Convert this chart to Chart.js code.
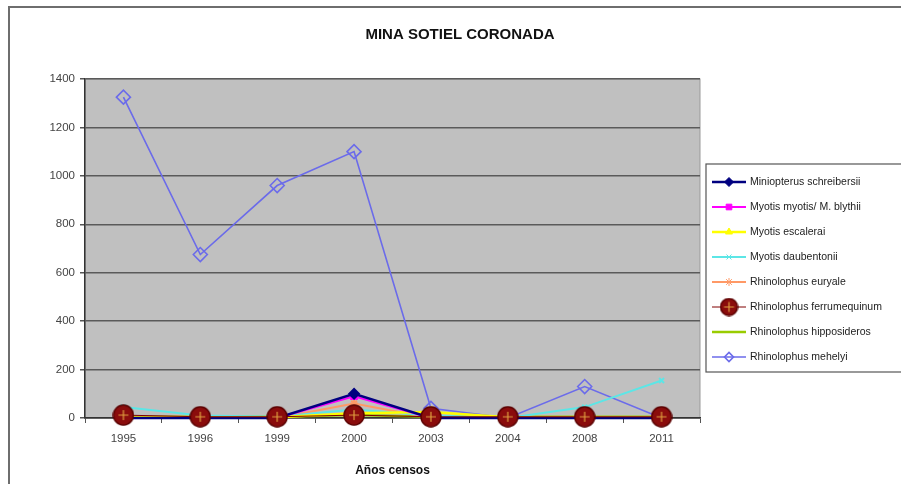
<!DOCTYPE html>
<html>
<head>
<meta charset="utf-8">
<title>MINA SOTIEL CORONADA</title>
<script src="https://cdn.jsdelivr.net/npm/chart.js@4.4.1/dist/chart.umd.min.js"></script>
<style>
  html, body { margin: 0; padding: 0; background: #fff; }
  #wrap { width: 901px; height: 484px; position: relative; }
</style>
</head>
<body>
<div id="wrap"><canvas id="chart"></canvas></div>
<script>
// categories (census years)
const years = ["1995", "1996", "1999", "2000", "2003", "2004", "2008", "2011"];
const yTicks = [0, 200, 400, 600, 800, 1000, 1200, 1400];

// series values
const miniopterus    = [0, 0, 0, 100, 0, 0, 0, 0];
const myotisMyotis   = [0, 0, 0, 90, 0, 0, 0, 0];
const myotisEscalera = [3, 3, 3, 20, 25, 3, 3, 3];
const myotisDaub     = [45, 10, 5, 35, 10, 0, 45, 155];
const rhEuryale      = [0, 0, 0, 60, 0, 0, 0, 0];
const rhFerrum       = [12, 5, 5, 12, 5, 5, 5, 5];
const rhHipposideros = [5, 5, 5, 12, 5, 5, 5, 5];
const rhMehelyi      = [1325, 675, 960, 1100, 40, 0, 130, 0];

const seriesNames = [
  "Miniopterus schreibersii",
  "Myotis myotis/ M. blythii",
  "Myotis escalerai",
  "Myotis daubentonii",
  "Rhinolophus euryale",
  "Rhinolophus ferrumequinum",
  "Rhinolophus hipposideros",
  "Rhinolophus mehelyi"
];
const chartTitle = "MINA SOTIEL CORONADA";

// big dark-red circle with a plus inside (ferrumequinum marker)
function circlePlus(size) {
  const c = document.createElement("canvas");
  c.width = size; c.height = size;
  const g = c.getContext("2d");
  const r = size / 2;
  g.beginPath();
  g.arc(r, r, r - 1, 0, Math.PI * 2);
  g.fillStyle = "#8a0c0c";
  g.fill();
  g.lineWidth = 1.5;
  g.strokeStyle = "#5a0000";
  g.stroke();
  g.strokeStyle = "#e0a040";
  g.lineWidth = 1.2;
  g.beginPath();
  g.moveTo(r - 5, r); g.lineTo(r + 5, r);
  g.moveTo(r, r - 5); g.lineTo(r, r + 5);
  g.stroke();
  return c;
}
const ferrumMarker = circlePlus(22);
const ferrumLegend = circlePlus(19);

function ds(label, data, color, style, radius, extra) {
  return Object.assign({
    label, data,
    borderColor: color,
    backgroundColor: color,
    pointBackgroundColor: color,
    pointBorderColor: color,
    pointStyle: style,
    pointRadius: radius,
    pointHoverRadius: radius,
    borderWidth: 2,
    tension: 0,
    clip: false
  }, extra || {});
}

const datasets = [
  ds(seriesNames[0], miniopterus, "#000080", "rectRot", 4.5, { borderWidth: 2.5 }),
  ds(seriesNames[1], myotisMyotis, "#ff00ff", "rect", 4),
  ds(seriesNames[2], myotisEscalera, "#ffff00", "triangle", 4, { borderWidth: 2.5 }),
  ds(seriesNames[3], myotisDaub, "#5ce6e6", "crossRot", 3.5, { borderWidth: 2 }),
  ds(seriesNames[4], rhEuryale, "#ff9966", "star", 4),
  ds(seriesNames[5], rhFerrum, "#800000", ferrumMarker, 11, { order: -1, borderWidth: 1 }),
  ds(seriesNames[6], rhHipposideros, "#99cc00", "line", 4, { borderWidth: 2.5 }),
  ds(seriesNames[7], rhMehelyi, "#6b6bea", "rectRot", 7, { pointBackgroundColor: "rgba(0,0,0,0)", borderWidth: 1.6, pointBorderWidth: 1.6 })
];

const framePlugin = {
  id: "frame",
  beforeDraw(chart) {
    const ctx = chart.ctx;
    const a = chart.chartArea;
    ctx.save();
    ctx.fillStyle = "#ffffff";
    ctx.fillRect(0, 0, chart.width, chart.height);
    ctx.strokeStyle = "#6e6e6e";
    ctx.lineWidth = 2;
    ctx.strokeRect(9, 7, chart.width + 10, chart.height + 10);
    ctx.fillStyle = "#c0c0c0";
    ctx.fillRect(a.left, a.top, a.right - a.left, a.bottom - a.top);
    ctx.strokeStyle = "#9a9a9a";
    ctx.lineWidth = 1;
    ctx.strokeRect(a.left, a.top, a.right - a.left, a.bottom - a.top);
    // title
    ctx.fillStyle = "#111";
    ctx.font = "bold 15px 'Liberation Sans Narrow', 'Liberation Sans', sans-serif";
    ctx.textAlign = "center";
    ctx.textBaseline = "middle";
    ctx.fillText(chartTitle, 460, 35);
    ctx.restore();
  }
};

const legendPlugin = {
  id: "boxLegend",
  afterDraw(chart) {
    const ctx = chart.ctx;
    const x0 = 706, y0 = 164, w = 198, h = 208;
    ctx.save();
    ctx.fillStyle = "#ffffff";
    ctx.fillRect(x0, y0, w, h);
    ctx.strokeStyle = "#555";
    ctx.lineWidth = 1.2;
    ctx.strokeRect(x0, y0, w, h);
    ctx.font = "10.5px 'Liberation Sans', Arial, sans-serif";
    ctx.textBaseline = "middle";
    chart.data.datasets.forEach((d, i) => {
      const y = y0 + 18 + i * 25;
      ctx.strokeStyle = d.borderColor;
      ctx.lineWidth = d.borderWidth;
      ctx.beginPath();
      ctx.moveTo(x0 + 6, y);
      ctx.lineTo(x0 + 40, y);
      ctx.stroke();
      const style = d.pointStyle === ferrumMarker ? ferrumLegend : d.pointStyle;
      ctx.fillStyle = d.pointBackgroundColor;
      ctx.strokeStyle = d.pointBorderColor;
      ctx.lineWidth = d.pointBorderWidth || 1;
      Chart.helpers.drawPoint(ctx, {
        pointStyle: style,
        radius: style === ferrumLegend ? 9 : Math.min(d.pointRadius, 4.5),
        rotation: 0,
        borderWidth: d.pointBorderWidth || 1
      }, x0 + 23, y);
      ctx.fillStyle = "#222";
      ctx.fillText(d.label, x0 + 44, y);
    });
    ctx.restore();
  }
};

new Chart(document.getElementById("chart"), {
  type: "line",
  data: { labels: years, datasets },
  plugins: [framePlugin, legendPlugin],
  options: {
    responsive: true,
    maintainAspectRatio: false,
    animation: false,
    layout: { padding: { left: 10, right: 201, top: 79, bottom: 6 } },
    plugins: {
      legend: { display: false },
      tooltip: { enabled: false },
      title: { display: false }
    },
    scales: {
      x: {
        offset: true,
        grid: { offset: true, drawOnChartArea: false, tickLength: 5, color: "#555", tickColor: "#555" },
        border: { color: "#333", width: 1.5 },
        ticks: { color: "#444", padding: 9, font: { family: "'Liberation Sans', Arial, sans-serif", size: 11.5 } },
        title: {
          display: true,
          text: "Años censos",
          color: "#111",
          font: { family: "'Liberation Sans Narrow', 'Liberation Sans', sans-serif", size: 12, weight: "bold" },
          padding: { top: 8, bottom: 0 }
        },
        afterFit(scale) { scale.height = 60; }
      },
      y: {
        min: 0,
        max: 1400,
        afterBuildTicks(scale) { scale.ticks = yTicks.map(v => ({ value: v })); },
        grid: { color: "#5a5a5a", lineWidth: 1.5, tickLength: 5, tickColor: "#555" },
        border: { color: "#333", width: 1.5 },
        ticks: {
          color: "#444",
          padding: 5,
          font: { family: "'Liberation Sans', Arial, sans-serif", size: 11.5 },
          callback: v => String(v)
        },
        afterFit(scale) { scale.width = 75; }
      }
    }
  }
});
</script>
</body>
</html>
